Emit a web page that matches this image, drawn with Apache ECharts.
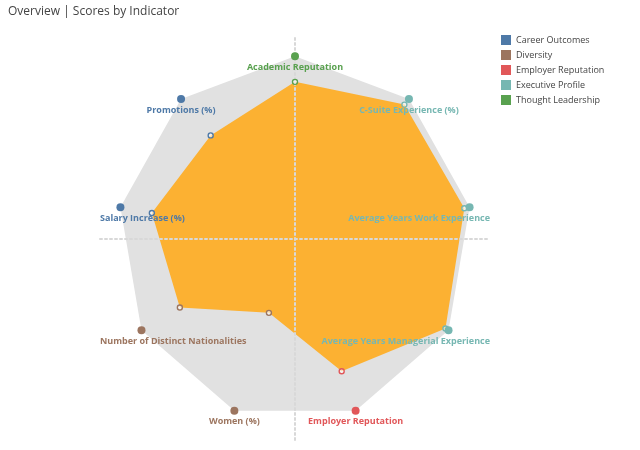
<!DOCTYPE html>
<html>
<head>
<meta charset="utf-8">
<script src="https://cdn.jsdelivr.net/npm/echarts@6/dist/echarts.min.js"></script>
<style>html,body{margin:0;padding:0;background:#fff}#c{width:640px;height:450px}</style>
</head>
<body>
<div id="c"></div>
<script>
const indicators = ['Academic Reputation','C-Suite Experience (%)','Average Years Work Experience','Average Years Managerial Experience','Employer Reputation','Women (%)','Number of Distinct Nationalities','Salary Increase (%)','Promotions (%)'];
const indicatorGroups = ['Thought Leadership','Executive Profile','Executive Profile','Executive Profile','Employer Reputation','Diversity','Diversity','Career Outcomes','Career Outcomes'];
const scores = [86, 96, 97, 98, 77, 43, 75, 82, 74];
const maxScores = [100, 100, 100, 100, 100, 100, 100, 100, 100];
const groups = ['Career Outcomes','Diversity','Employer Reputation','Executive Profile','Thought Leadership'];
const groupColors = ['#4e79a7','#9c755f','#e15759','#76b7b2','#59a14f'];

const W = 640, GRID_L = 100, GRID_R = 150;
const n = indicators.length;
function toXY(v, i) {
  const a = (90 - i * 360 / n) * Math.PI / 180;
  const r = v / 100;
  return [r * Math.cos(a), r * Math.sin(a)];
}
const outerXY = maxScores.map(toXY);
const innerXY = scores.map(toXY);

function polygonSeries(name, pts, fill, z) {
  return {
    type: 'custom', name: name, z: z, silent: true, clip: false,
    data: pts,
    renderItem: function (params, api) {
      if (params.dataIndex !== 0) return;
      return {
        type: 'polygon',
        shape: { points: pts.map(p => api.coord(p)) },
        style: { fill: fill }
      };
    }
  };
}

const series = [
  polygonSeries('max', outerXY, '#e1e1e1', 1),
  polygonSeries('score', innerXY, '#fcb132', 2)
];

groups.forEach((g, gi) => {
  const col = groupColors[gi];
  const data = [];
  indicators.forEach((name, i) => {
    if (indicatorGroups[i] !== g) return;
    data.push({
      value: innerXY[i], name: name, symbolSize: 5,
      itemStyle: { color: 'rgba(255,255,255,0.6)', borderColor: col, borderWidth: 1.4, opacity: 1 },
      label: { show: false }
    });
    data.push({
      value: outerXY[i], name: name, symbolSize: 8,
      itemStyle: { color: col, opacity: 1 },
      label: {
        show: true, position: 'bottom', distance: 2.5,
        formatter: '{b}', color: col,
        fontFamily: 'Open Sans', fontSize: 9, fontWeight: 'bold'
      }
    });
  });
  series.push({
    type: 'scatter', name: g, z: 10, silent: true,
    itemStyle: { color: col, opacity: 1 },
    data: data,
    labelLayout: function (p) {
      const r = p.labelRect;
      const lo = GRID_L, hi = W - GRID_R;
      if (r.x < lo) return { dx: lo - r.x };
      if (r.x + r.width > hi) return { dx: hi - (r.x + r.width) };
      return {};
    }
  });
});

const chart = echarts.init(document.getElementById('c'), null, { renderer: 'canvas' });
chart.setOption({
  animation: false,
  textStyle: { fontFamily: 'Open Sans' },
  title: {
    text: 'Overview | Scores by Indicator', left: 3, top: 1,
    textStyle: { fontFamily: 'Open Sans', fontSize: 12, fontWeight: 'normal', color: '#444' }
  },
  legend: {
    orient: 'vertical', left: 496, top: 30, icon: 'rect',
    itemWidth: 10, itemHeight: 10, itemGap: 5,
    data: groups,
    textStyle: { fontFamily: 'Open Sans', fontSize: 9, color: '#444' }
  },
  grid: { left: GRID_L, right: GRID_R, top: 38, bottom: 10 },
  xAxis: {
    type: 'value', min: -1.1, max: 1.1, z: 5,
    axisLine: { show: true, onZero: true, lineStyle: { color: '#d8d8d8', width: 2, type: [2, 3] } },
    axisTick: { show: false }, axisLabel: { show: false }, splitLine: { show: false }
  },
  yAxis: {
    type: 'value', min: -1.1, max: 1.1, z: 5,
    axisLine: { show: true, onZero: true, lineStyle: { color: '#d8d8d8', width: 2, type: [2, 3] } },
    axisTick: { show: false }, axisLabel: { show: false }, splitLine: { show: false }
  },
  series: series
});
</script>
</body>
</html>
